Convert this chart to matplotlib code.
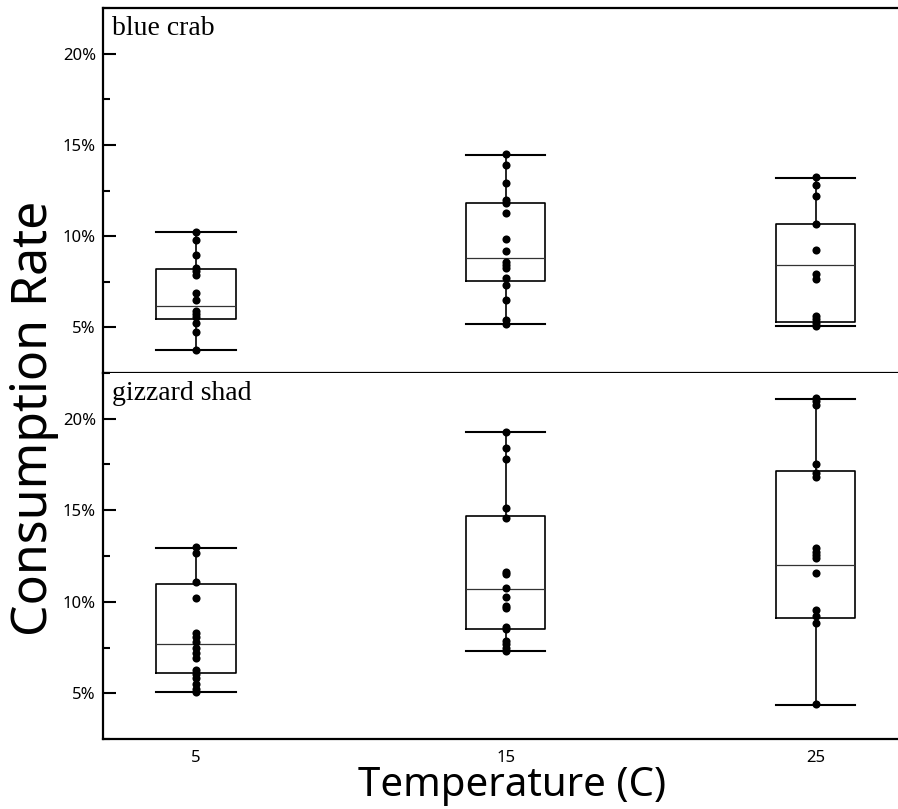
import matplotlib
matplotlib.use("Agg")
import matplotlib.pyplot as plt
from matplotlib.ticker import MultipleLocator, FuncFormatter

# temperatures (categories)
temps = ["5", "15", "25"]

# consumption rate points (%)
crab_5 = [10.22, 9.78, 8.98, 8.27, 8.09, 7.85, 6.89, 6.49, 5.87, 5.72, 5.54, 5.26, 4.72, 3.75]
crab_15 = [14.52, 13.90, 12.90, 11.97, 11.82, 11.26, 9.85, 9.18, 8.58, 8.40, 8.27, 7.72, 7.32,
           6.49, 5.39, 5.21]
crab_25 = [13.24, 12.82, 12.20, 10.69, 9.22, 7.91, 7.64, 5.63, 5.45, 5.26, 5.08]

shad_5 = [13.01, 12.65, 11.10, 10.19, 8.27, 8.09, 7.81, 7.45, 7.18, 6.90, 6.26, 6.03, 5.81,
          5.53, 5.26, 5.07]
shad_15 = [19.25, 18.40, 17.81, 15.14, 14.60, 11.64, 11.52, 10.77, 10.24, 9.78, 9.64, 8.63,
           8.49, 7.85, 7.68, 7.48, 7.32]
shad_25 = [21.13, 20.95, 20.77, 17.52, 17.06, 16.84, 12.92, 12.74, 12.56, 12.38, 11.55, 9.55,
           9.22, 8.82, 4.44]

# box statistics (%): lower whisker, Q1, median, Q3, upper whisker
crab_whislo = [3.75, 5.17, 5.08]
crab_q1 = [5.45, 7.54, 5.32]
crab_med = [6.17, 8.80, 8.42]
crab_q3 = [8.20, 11.82, 10.64]
crab_whishi = [10.20, 14.43, 13.17]

shad_whislo = [5.07, 7.32, 4.35]
shad_q1 = [6.08, 8.51, 9.09]
shad_med = [7.67, 10.68, 12.01]
shad_q3 = [10.97, 14.71, 17.17]
shad_whishi = [12.92, 19.25, 21.08]

panels = [
    ("blue crab", [crab_5, crab_15, crab_25], crab_whislo, crab_q1, crab_med, crab_q3, crab_whishi),
    ("gizzard shad", [shad_5, shad_15, shad_25], shad_whislo, shad_q1, shad_med, shad_q3, shad_whishi),
]

sans = ["Noto Sans", "DejaVu Sans"]
fig = plt.figure(figsize=(8.98, 8.09), dpi=100)
ax_top = fig.add_axes([0.1147, 0.539, 0.8853, 0.451])
ax_bot = fig.add_axes([0.1147, 0.0865, 0.8853, 0.4525])

for ax, (name, pts, wlo, q1, med, q3, whi) in zip([ax_top, ax_bot], panels):
    stats = []
    for i in range(len(temps)):
        stats.append(dict(whislo=wlo[i] / 100, q1=q1[i] / 100, med=med[i] / 100,
                          q3=q3[i] / 100, whishi=whi[i] / 100, fliers=[]))
    ax.bxp(stats, positions=range(len(temps)), widths=0.255, showfliers=False,
           boxprops=dict(color="black", linewidth=1.2),
           whiskerprops=dict(color="black", linewidth=1.2),
           capprops=dict(color="black", linewidth=1.5),
           medianprops=dict(color="#333333", linewidth=0.9),
           capwidths=0.255)
    for i, vals in enumerate(pts):
        ax.scatter([i] * len(vals), [v / 100 for v in vals], s=34, color="black",
                   zorder=3, linewidths=0)
    ax.set_xlim(-0.3, 2.265)
    ax.set_ylim(0.025, 0.225)
    ax.yaxis.set_major_locator(MultipleLocator(0.05))
    ax.yaxis.set_minor_locator(MultipleLocator(0.025))
    ax.yaxis.set_major_formatter(FuncFormatter(lambda v, p: f"{v * 100:.0f}%"))
    ax.tick_params(axis="y", which="major", direction="in", length=9, width=1.5,
                   labelsize=12, pad=5)
    ax.tick_params(axis="y", which="minor", direction="in", length=5, width=1.5)
    ax.tick_params(axis="x", length=0, labelsize=12, pad=8)
    for lbl in ax.get_yticklabels() + ax.get_xticklabels():
        lbl.set_family(sans)
    ax.spines["right"].set_visible(False)
    for s in ax.spines.values():
        s.set_linewidth(1.6)
    ax.text(0.011, 0.977, name, transform=ax.transAxes, ha="left", va="top",
            fontsize=20, family="Liberation Serif")

ax_top.set_xticks([])
ax_bot.spines["top"].set_visible(False)
ax_bot.set_xticks(range(len(temps)))
ax_bot.set_xticklabels(temps, family=sans)

fig.text(0.57, 0.004, "Temperature (C)", ha="center", va="bottom", fontsize=29, family=sans)
fig.text(0.01, 0.483, "Consumption Rate", ha="left", va="center", rotation=90,
         fontsize=36, family=sans)

fig.savefig("out.png", dpi=100)
